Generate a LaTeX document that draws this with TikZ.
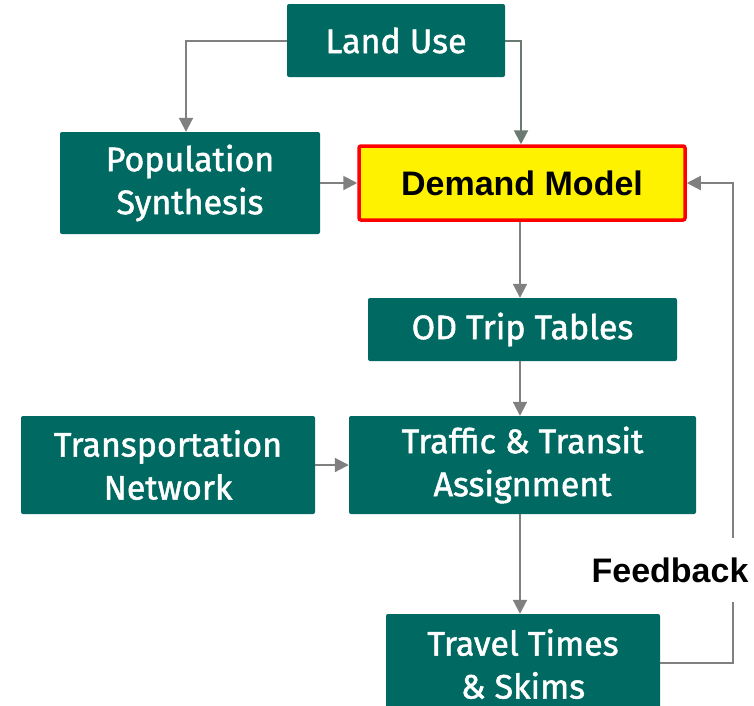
\documentclass[tikz,border=0pt]{standalone}
\usepackage{fontspec}
\setmainfont{Liberation Sans}
\newfontfamily\boxfont{Fira Sans}[FakeBold=1.4]
\usetikzlibrary{arrows.meta}
\definecolor{teal1}{RGB}{0,106,98}
\definecolor{arrowgray}{RGB}{128,128,128}
\definecolor{arrowgreen}{RGB}{106,122,112}
\tikzset{
  gbox/.style={draw=none, fill=teal1, rounded corners=2pt, text=white, align=center,
    font=\boxfont\fontsize{34}{43}\selectfont, inner sep=0pt},
  ybox/.style={draw=red, line width=3.5pt, fill=yellow, rounded corners=2pt, text=black,
    font=\bfseries\fontsize{34}{40}\selectfont, inner sep=0pt},
  conn/.style={draw=arrowgray, line width=2pt, -{Triangle[length=14pt,width=14pt]}},
}
\begin{document}
\begin{tikzpicture}[x=1pt,y=-1pt]
\useasboundingbox (0,0) rectangle (754,705);
\begin{scope}
\clip (0,0) rectangle (754,705);
\node[gbox, minimum width=218pt, minimum height=73pt] (lu) at (396,40.5) {Land Use};
\node[gbox, minimum width=260pt, minimum height=102pt] (ps) at (190,183) {Population\\Synthesis};
\node[ybox, minimum width=326pt, minimum height=74pt] (dm) at (522,183) {Demand Model};
\node[gbox, minimum width=309pt, minimum height=63pt] (od) at (522.5,329.5) {OD Trip Tables};
\node[gbox, minimum width=294pt, minimum height=98pt] (tn) at (168,465) {Transportation\\Network};
\node[gbox, minimum width=347pt, minimum height=98pt] (ta) at (522.5,465) {Traffic \& Transit\\Assignment};
\node[gbox, minimum width=274pt, minimum height=100pt] (tt) at (523,664) {Travel Times\\\& Skims};
\coordinate (fbc) at (733,663);
\draw[conn] (lu.west) -| ([xshift=-4pt]ps.north);
\draw[conn, draw=arrowgreen] (lu.east) -| ([xshift=-1pt]dm.north);
\draw[conn] (ps.east) -- (dm.west);
\draw[conn] ([xshift=-2pt]dm.south) -- ([xshift=-2.5pt]od.north);
\draw[conn] ([xshift=-2.5pt]od.south) -- ([xshift=-2.5pt]ta.north);
\draw[conn] (tn.east) -- (ta.west);
\draw[conn] ([xshift=-2.5pt]ta.south) -- ([xshift=-3pt]tt.north);
\draw[conn] (tt.east |- fbc) -- (fbc) |- (dm.east);
\node[fill=white, inner xsep=1pt, inner ysep=20pt, font=\bfseries\fontsize{34}{40}\selectfont] (fb) at (670,570) {Feedback};
\end{scope}
\end{tikzpicture}
\end{document}
